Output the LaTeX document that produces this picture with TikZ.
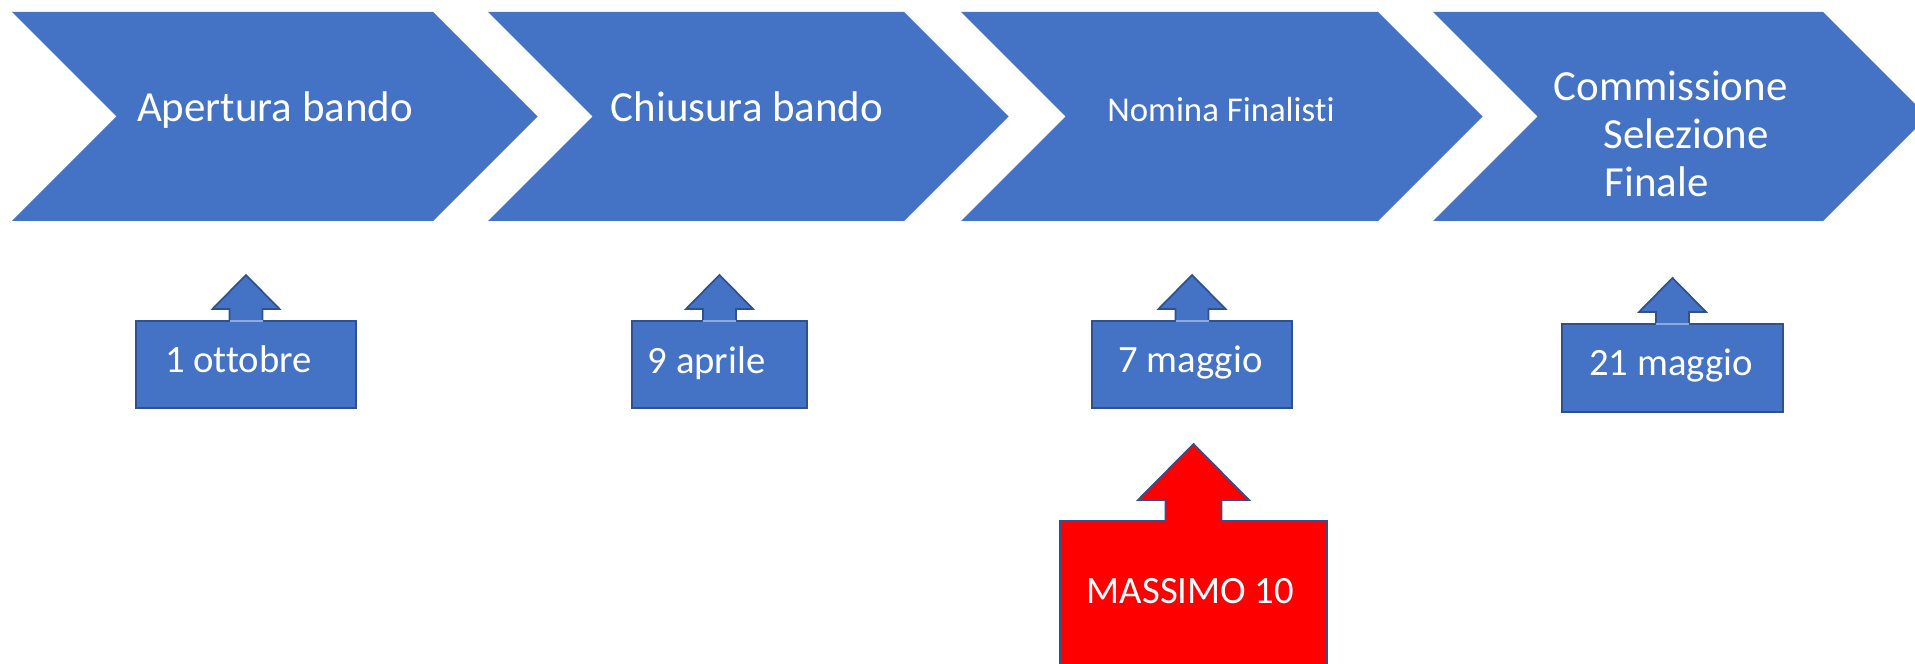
\documentclass[tikz,border=0pt]{standalone}
\usepackage{fontspec}
\setmainfont{Carlito}[Ligatures=CommonOff]
\usepackage{tikz}

\definecolor{pptblue}{HTML}{4472C4}
\definecolor{pptedge}{HTML}{2F528F}
\definecolor{pptseam}{HTML}{8FAADC}

\tikzset{
  chevron/.style={fill=pptblue},
  upbox/.style={fill=pptblue,draw=pptedge,line width=0.5pt,line join=miter},
  redbox/.style={fill=red,draw=pptedge,line width=0.5pt,line join=miter},
  bigtext/.style={text=white,inner sep=0pt,anchor=base,font=\fontsize{12.2}{13.6}\selectfont},
  smalltext/.style={text=white,inner sep=0pt,anchor=base,font=\fontsize{11}{12}\selectfont}
}

\begin{document}
\begin{tikzpicture}[x=0.01cm,y=-0.01cm]
            \clip (0,0) rectangle (1915,664);
            % process chevrons
            \foreach \x/\w in {12/421,488/416,961/417,1433/390}
                \fill[chevron] (\x,12) -- ({\x+\w},12) -- ({\x+\w+104.5},116.5) -- ({\x+\w},221)
                    -- (\x,221) -- ({\x+104.5},116.5) -- cycle;
            \node[bigtext] (apertura) at (275,122) {Apertura bando};
            \node[bigtext] (chiusura) at (747,122) {Chiusura bando};
            \node[bigtext,font=\fontsize{9.9}{11}\selectfont] (nomina) at (1221,122) {Nomina Finalisti};
            % multi-line node: base is the last line
            \node[bigtext,anchor=base west,align=left] (commissione) at (1553,196)
                {Commissione\\\hspace*{0.5cm}Selezione\\\hspace*{0.51cm}Finale};
            % date callouts
            \foreach \l/\r/\t/\b in {136/356/321/408,632/807/321/408,1092/1292/321/408,1562/1783/324/412}{
                \pgfmathsetmacro\c{(\l+\r)/2}
                \draw[upbox] (\l,\t) -- ({\c-16.5},\t) -- ({\c-16.5},\t-12) -- ({\c-33.5},\t-12) -- (\c,\t-46)
                    -- ({\c+33.5},\t-12) -- ({\c+16.5},\t-12) -- ({\c+16.5},\t) -- (\r,\t) -- (\r,\b) -- (\l,\b) -- cycle;
                \draw[pptseam,line width=0.3pt] ({\c-16.5},\t) -- ({\c+16.5},\t);
            }
            \node[smalltext] (ottobre) at (238.5,372) {1 ottobre};
            \node[smalltext] (aprile) at (706.5,373) {9 aprile};
            \node[smalltext] (maggio) at (1190.5,372) {7 maggio};
            \node[smalltext] (maggiofin) at (1671,375) {21 maggio};
            % red callout
            \draw[redbox] (1060,521) -- (1165.5,521) -- (1165.5,500) -- (1138,500) -- (1193.5,444) -- (1249,500)
                -- (1221.5,500) -- (1221.5,521) -- (1327,521) -- (1327,700) -- (1060,700) -- cycle;
            \node[smalltext] (massimo) at (1190.5,603) {MASSIMO 10};
        \end{tikzpicture}
\end{document}
